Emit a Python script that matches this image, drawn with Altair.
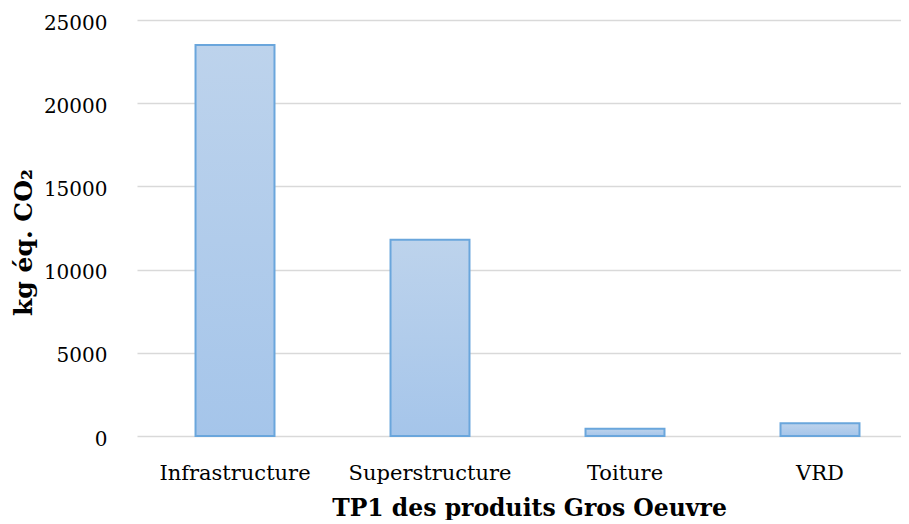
import altair as alt
import pandas as pd

categories = ["Infrastructure", "Superstructure", "Toiture", "VRD"]
values = [23500, 11800, 440, 760]
y_ticks = [0, 5000, 10000, 15000, 20000, 25000]

df = pd.DataFrame({"cat": categories, "val": values})

FONT = "DejaVu Serif"

bars = alt.Chart(df).mark_bar(
    color=alt.Gradient(
        gradient="linear",
        x1=0, y1=0, x2=0, y2=1,
        stops=[alt.GradientStop(color="#BDD3EC", offset=0),
               alt.GradientStop(color="#A5C5EA", offset=1)],
    ),
    stroke="#6AA6DC",
    strokeWidth=2,
).encode(
    x=alt.X("cat:N", sort=categories,
            scale=alt.Scale(paddingInner=0.595, paddingOuter=0.2565, align=0.585),
            axis=alt.Axis(title="TP1 des produits Gros Oeuvre", labelAngle=0,
                          ticks=False, tickSize=0, domain=False,
                          labelFont=FONT, labelFontSize=21, labelColor="#000000",
                          labelBaseline="alphabetic", labelPadding=43,
                          titleFont=FONT, titleFontSize=23.5, titleFontWeight="bold",
                          titleColor="#000000", titleBaseline="alphabetic",
                          titleX=392, titleY=79, titleAnchor="middle")),
    y=alt.Y("val:Q",
            scale=alt.Scale(domain=[0, 25000], nice=False),
            axis=alt.Axis(title="kg éq. CO₂", values=y_ticks, format="d",
                          ticks=False, tickSize=0, domain=False,
                          grid=True, gridColor="#D9D9D9", gridWidth=1.5,
                          labelFont=FONT, labelFontSize=20, labelColor="#000000",
                          labelPadding=30, labelBaseline="middle", labelOffset=3,
                          titleFont=FONT, titleFontSize=25, titleFontWeight="bold",
                          titleColor="#000000", titleAngle=270,
                          titleX=-114, titleY=222, titleAlign="center",
                          titleBaseline="middle")),
)

chart = bars.properties(
    width=764,
    height=416,
    autosize=alt.AutoSizeParams(type="none"),
    padding={"left": 129, "top": 12, "right": 0, "bottom": 84},
    background="#FFFFFF",
).configure_view(stroke=None)

chart.save("out.html", embed_options={"renderer": "svg", "actions": False})
